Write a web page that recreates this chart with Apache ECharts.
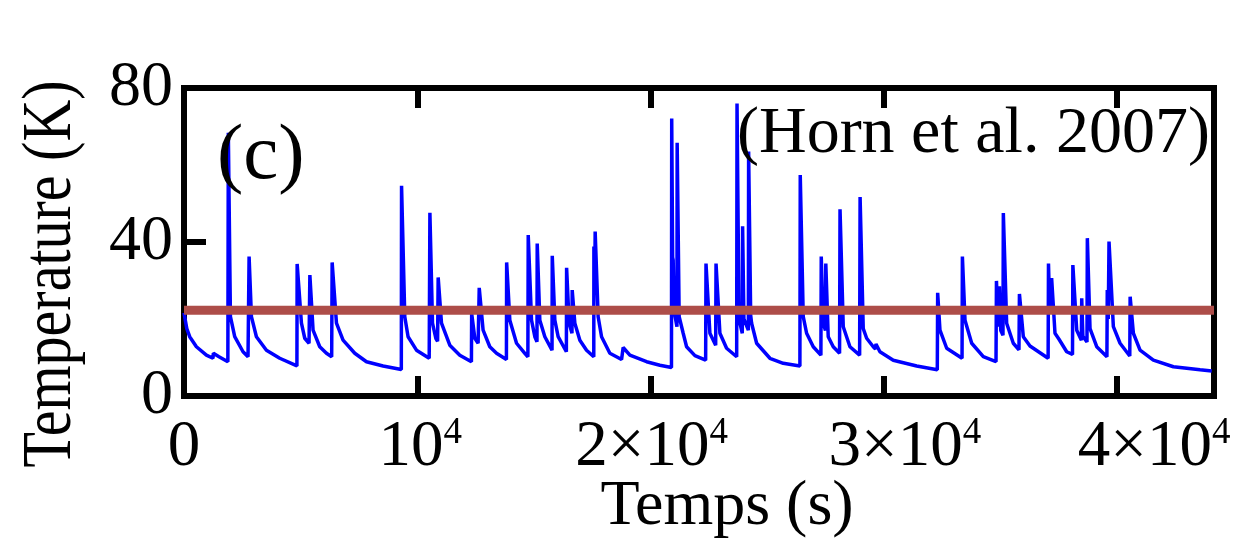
<!DOCTYPE html>
<html>
<head>
<meta charset="utf-8">
<script src="https://cdn.jsdelivr.net/npm/echarts@6.0.0/dist/echarts.min.js"></script>
<style>
html,body{margin:0;padding:0;background:#fff;}
#chart{width:1236px;height:540px;}
</style>
</head>
<body>
<div id="chart"></div>
<script>
// ---- data ----
const timeS = [0,120,244,532,960,1240,1260,1500,1880,1900,1990,2174,2530,2744,2790,2890,3104,3533,4104,4840,4850,5034,5176,5360,5395,5532,5819,6106,6330,6350,6535,6818,7320,7821,8533,9315,9325,9464,9605,9965,10510,10540,10652,10793,10870,10895,11037,11393,11822,12320,12330,12465,12607,12655,12821,13108,13396,13820,13830,13966,14254,14609,14740,14755,14896,15038,15130,15140,15252,15467,15775,15785,15895,16037,16390,16400,16509,16630,16640,16753,16968,17255,17565,17570,17605,17624,17752,17898,18254,18756,18824,19112,19829,20399,20895,20905,20945,20968,21010,21130,21139,21225,21397,21543,21900,22360,22375,22542,22790,22805,22971,23258,23690,23705,23790,23930,23944,24000,24190,24202,24290,24330,24545,25115,25685,26400,26415,26543,26688,26972,27300,27315,27400,27495,27510,27614,27829,28100,28120,28258,28545,28960,28980,29115,29261,29544,29640,29660,29830,30402,31405,32289,32305,32404,32692,33350,33365,33477,33764,34261,34806,34825,34900,34950,35010,35105,35120,35262,35547,35790,35810,35976,36262,37040,37055,37110,37190,37334,37500,37836,38085,38100,38266,38465,38480,38530,38705,38721,38836,39123,39560,39575,39617,39650,39836,40123,40540,40555,40694,40980,41551,42409,43553,44055];
const tempK = [21.6,17.5,15.4,12.8,10.6,9.8,11.1,10.2,8.9,68.4,20.6,15.4,11.5,10.2,36.2,20.6,15.4,11.9,9.8,7.8,34.3,18.9,15.0,13.7,31.4,17.1,12.8,11.1,10.2,34.7,18.9,14.5,11.1,8.9,7.8,6.9,54.6,20.6,15.4,11.9,9.8,47.6,18.9,15.0,14.2,30.8,18.9,13.2,10.6,8.9,21.5,15.0,13.7,28.1,17.1,12.8,11.1,9.5,34.7,19.7,13.7,11.1,10.2,41.8,19.7,15.4,14.1,39.6,19.7,15.4,11.9,36.4,19.7,15.4,11.5,33.3,18.9,16.3,27.5,18.9,14.5,11.9,10.2,38.8,27.0,42.7,20.6,15.4,11.1,9.5,12.6,10.6,8.9,8.0,7.4,72.1,36.0,35.3,22.0,18.0,65.8,20.6,16.3,12.8,10.5,9.3,34.4,16.3,13.2,34.4,16.3,12.4,10.2,76.0,20.0,16.3,44.1,20.0,17.1,63.5,21.0,18.9,13.7,9.8,8.5,7.8,57.4,20.6,16.3,12.8,10.6,36.2,18.9,17.0,34.4,15.4,12.8,11.1,48.5,18.0,12.8,10.6,51.7,17.5,15.0,12.8,12.2,13.5,11.5,9.3,7.8,6.8,26.8,17.1,12.4,9.8,36.2,19.7,13.7,10.2,8.9,29.9,18.0,28.5,17.0,15.8,47.5,18.9,13.7,12.0,26.5,15.4,13.0,9.8,34.4,22.0,30.6,16.3,14.8,11.5,10.8,34.0,17.1,14.5,25.4,15.5,14.0,41.0,17.5,12.8,10.2,27.5,20.0,40.1,18.0,13.7,10.4,25.8,16.3,11.9,9.3,7.6,6.8,6.5];
const thresholdK = 22.3;
const xMin = 0, xMax = 44150, xStep = 10000;
const yMin = 0, yMax = 80, yStep = 40;
const xTickLabels = ['0', '10^4', '2×10^4', '3×10^4', '4×10^4'];
const yTickLabels = ['0', '40', '80'];
const xTitle = 'Temps (s)';
const yTitle = 'Temperature (K)';
const panelTag = '(c)';
const sourceNote = '(Horn et al. 2007)';

// ---- build ----
const FONT = '"Liberation Serif", "Times New Roman", serif';
const series1 = timeS.map((t, i) => [t, tempK[i]]);
const thresholdLine = [[xMin, thresholdK], [xMax, thresholdK]];
const labelShift = [0, 6, 2, 42, 74]; // left padding (px) to nudge labels like the reference

const richStyles = { sup: { fontSize: 37, fontFamily: FONT, color: '#000', verticalAlign: 'top', lineHeight: 37 } };
labelShift.forEach((p, i) => {
  richStyles['b' + i] = { fontSize: 65, fontFamily: FONT, color: '#000', lineHeight: 65, padding: [0, 0, 0, p] };
});

function xLabel(v) {
  const idx = Math.round((v - xMin) / xStep);
  const s = xTickLabels[idx];
  if (s === undefined || Math.abs(v - idx * xStep) > 1e-6) return '';
  const parts = s.split('^');
  let out = '{b' + idx + '|' + parts[0] + '}';
  if (parts[1]) out += '{sup|' + parts[1] + '}';
  return out;
}
function yLabel(v) {
  const idx = Math.round((v - yMin) / yStep);
  return yTickLabels[idx] !== undefined ? yTickLabels[idx] : '';
}

const axisLineStyle = { color: '#000', width: 6, cap: 'square' };
const chart = echarts.init(document.getElementById('chart'), null, { renderer: 'canvas' });
chart.setOption({
  animation: false,
  backgroundColor: '#fff',
  grid: { left: 184, right: 22, top: 88, bottom: 144, containLabel: false },
  xAxis: [
    {
      type: 'value', min: xMin, max: xMax, interval: xStep, position: 'bottom',
      axisLine: { show: true, onZero: false, lineStyle: axisLineStyle },
      axisTick: { show: true, inside: true, length: 20, lineStyle: { color: '#000', width: 6 } },
      axisLabel: { show: true, margin: 19, showMaxLabel: false, formatter: xLabel, rich: richStyles },
      splitLine: { show: false }
    },
    {
      type: 'value', min: xMin, max: xMax, interval: xStep, position: 'top',
      axisLine: { show: true, onZero: false, lineStyle: axisLineStyle },
      axisTick: { show: true, inside: true, length: 20, lineStyle: { color: '#000', width: 6 } },
      axisLabel: { show: false },
      splitLine: { show: false }
    }
  ],
  yAxis: [
    {
      type: 'value', min: yMin, max: yMax, interval: yStep, position: 'left',
      axisLine: { show: true, onZero: false, lineStyle: axisLineStyle },
      axisTick: { show: true, inside: true, length: 22, lineStyle: { color: '#000', width: 6 } },
      axisLabel: { show: true, margin: 11, formatter: yLabel, fontSize: 64, fontFamily: FONT, color: '#000', padding: [14, 0, 0, 0] },
      splitLine: { show: false }
    },
    {
      type: 'value', min: yMin, max: yMax, interval: yStep, position: 'right',
      axisLine: { show: true, onZero: false, lineStyle: axisLineStyle },
      axisTick: { show: false },
      axisLabel: { show: false },
      splitLine: { show: false }
    }
  ],
  series: [
    {
      type: 'line', data: series1, xAxisIndex: 0, yAxisIndex: 0,
      showSymbol: false, symbol: 'none', smooth: false,
      lineStyle: { color: '#0000ff', width: 3.5 }, z: 3
    },
    {
      type: 'line', data: thresholdLine, xAxisIndex: 0, yAxisIndex: 0,
      showSymbol: false, symbol: 'none',
      lineStyle: { color: '#ad4d49', width: 9, cap: 'butt' }, z: 4
    }
  ],
  graphic: [
    { type: 'text', x: 217, y: 157, z: 10,
      style: { text: panelTag, font: '79px ' + FONT, fill: '#000', textAlign: 'left', align: 'left', textVerticalAlign: 'middle', verticalAlign: 'middle' } },
    { type: 'text', x: 737, y: 135, z: 10,
      style: { text: sourceNote, font: '66px ' + FONT, fill: '#000', textAlign: 'left', align: 'left', textVerticalAlign: 'middle', verticalAlign: 'middle' } },
    { type: 'text', x: 727, y: 507, z: 10,
      style: { text: xTitle, font: '64px ' + FONT, fill: '#000', textAlign: 'center', align: 'center', textVerticalAlign: 'middle', verticalAlign: 'middle' } },
    { type: 'text', x: 52, y: 274, rotation: Math.PI / 2, scaleX: 1, scaleY: 1.2, z: 10,
      style: { text: yTitle, font: '58px ' + FONT, fill: '#000', textAlign: 'center', align: 'center', textVerticalAlign: 'middle', verticalAlign: 'middle' } }
  ]
});
</script>
</body>
</html>
